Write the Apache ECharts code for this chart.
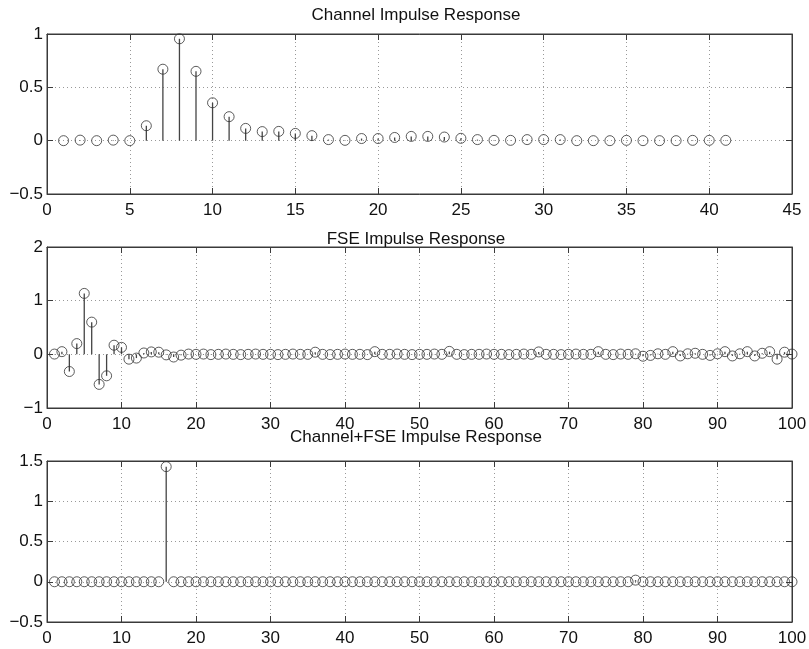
<!DOCTYPE html>
<html>
<head>
<meta charset="utf-8">
<script src="https://cdn.jsdelivr.net/npm/echarts@6/dist/echarts.min.js"></script>
<style>html,body{margin:0;padding:0;background:#fff}#c{width:809px;height:649px}</style>
</head>
<body>
<div id="c"></div>
<script>
// ---- data ----
const titles = ['Channel Impulse Response', 'FSE Impulse Response', 'Channel+FSE Impulse Response'];

const channelResp = [0, 0.005, 0, 0.005, 0, 0.14, 0.67, 0.955, 0.65, 0.355,
  0.225, 0.115, 0.085, 0.087, 0.068, 0.047, 0.01, 0.003, 0.02, 0.02,
  0.03, 0.04, 0.04, 0.034, 0.022, 0.01, 0.003, 0.003, 0.01, 0.01,
  0.01, 0, 0, 0, 0.003, 0, 0, 0, 0.003, 0.003, 0.003];

const fseResp = [0.005, 0.05, -0.32, 0.2, 1.135, 0.6, -0.56, -0.40, 0.17, 0.13,
  -0.09, -0.07, 0.025, 0.045, 0.04, -0.01, -0.05, -0.015, 0.005, 0,
  0.005, -0.005, 0, 0.005, 0, -0.005, 0, 0.005, 0, 0,
  -0.005, 0, 0.005, 0, 0, 0.04, 0, -0.005, 0, 0.005,
  0, 0, -0.005, 0.05, 0, 0, 0.005, 0, -0.005, 0,
  0, 0.005, 0, 0.055, 0, -0.005, 0, 0, 0.005, 0,
  0, -0.005, 0, 0.005, 0, 0.045, 0, 0, -0.005, 0,
  0.005, 0, 0, 0.05, 0, -0.005, 0.005, 0, 0.01, -0.035,
  -0.02, 0.01, 0, 0.05, -0.03, 0.01, 0.02, 0, -0.02, 0.01,
  0.05, -0.03, 0.01, 0.05, -0.03, 0.02, 0.05, -0.09, 0.04, 0.005];

const totalResp = [0, 0, 0, 0, 0, 0, 0, 0, 0, 0,
  0, 0, 0, 0, 0, 1.43, 0, 0, 0, 0,
  0, 0, 0, 0, 0, 0, 0, 0, 0, 0,
  0, 0, 0, 0, 0, 0, 0, 0, 0, 0,
  0, 0, 0, 0, 0, 0, 0, 0, 0, 0,
  0, 0, 0, 0, 0, 0, 0, 0, 0, 0,
  0, 0, 0, 0, 0, 0, 0, 0, 0, 0,
  0, 0, 0, 0, 0, 0, 0, 0, 0.02, 0,
  0, 0, 0, 0, 0, 0, 0, 0, 0, 0,
  0, 0, 0, 0, 0, 0, 0, 0, 0, 0];

const xTicks = [[0, 45, 5], [0, 100, 10], [0, 100, 10]];   // min, max, interval
const yTicks = [[-0.5, 1, 0.5], [-1, 2, 1], [-0.5, 1.5, 0.5]];

// ---- chart ----
const panels = [channelResp, fseResp, totalResp];
const gridTops = [34, 247, 461];
const gridH = [160, 161, 161];
const titleTops = [2, 226, 424];
const FONT = 'Liberation Sans, Arial, Helvetica, sans-serif';
const AX = '#3a3a3a';

function fmt(v) { return String(v).replace('-', '\u2212'); }

const grid = [], xAxis = [], yAxis = [], series = [], title = [];
panels.forEach((vals, i) => {
  grid.push({ left: 47, right: 17, top: gridTops[i], height: gridH[i],
    show: true, borderColor: AX, borderWidth: 1, outerBoundsMode: 'none' });
  title.push({ text: titles[i], left: 411, textAlign: 'center', top: titleTops[i],
    textStyle: { fontFamily: FONT, fontSize: 17, fontWeight: 'normal', color: '#111' } });
  const [xmin, xmax, xint] = xTicks[i];
  const [ymin, ymax, yint] = yTicks[i];
  const common = () => ({ axisLine: { show: true, onZero: false, lineStyle: { color: AX } },
    axisTick: { show: true, inside: true, length: 6, lineStyle: { color: AX } } });
  xAxis.push(Object.assign({ type: 'value', gridIndex: i, min: xmin, max: xmax, interval: xint,
    position: 'bottom',
    axisLabel: { fontFamily: FONT, fontSize: 17, color: '#111', margin: 8, formatter: fmt },
    splitLine: { show: true, lineStyle: { color: '#999', type: [1, 3], width: 1 } } }, common()));
  xAxis.push(Object.assign({ type: 'value', gridIndex: i, min: xmin, max: xmax, interval: xint,
    position: 'top', axisLabel: { show: false }, splitLine: { show: false } }, common()));
  yAxis.push(Object.assign({ type: 'value', gridIndex: i, min: ymin, max: ymax, interval: yint,
    position: 'left',
    axisLabel: { fontFamily: FONT, fontSize: 17, color: '#111', margin: 4, formatter: fmt },
    splitLine: { show: true, lineStyle: { color: '#999', type: [1, 3], width: 1 } } }, common()));
  yAxis.push(Object.assign({ type: 'value', gridIndex: i, min: ymin, max: ymax, interval: yint,
    position: 'right', axisLabel: { show: false }, splitLine: { show: false } }, common()));

  const data = vals.map((v, k) => [k + 1, v]);
  series.push({
    type: 'custom', xAxisIndex: 2 * i, yAxisIndex: 2 * i, data: data, silent: true,
    renderItem: function (params, api) {
      const p0 = api.coord([api.value(0), 0]);
      const p1 = api.coord([api.value(0), api.value(1)]);
      return { type: 'line', shape: { x1: p0[0], y1: p0[1], x2: p1[0], y2: p1[1] },
        style: { stroke: '#444', lineWidth: 1.3 } };
    }
  });
  series.push({
    type: 'scatter', xAxisIndex: 2 * i, yAxisIndex: 2 * i, data: data, silent: true,
    symbol: 'circle', symbolSize: 10,
    itemStyle: { color: 'rgba(0,0,0,0)', borderColor: '#333', borderWidth: 1 }
  });
});

const chart = echarts.init(document.getElementById('c'), null, { renderer: 'canvas' });
chart.setOption({ animation: false, backgroundColor: '#fff', title, grid, xAxis, yAxis, series });
</script>
</body>
</html>
